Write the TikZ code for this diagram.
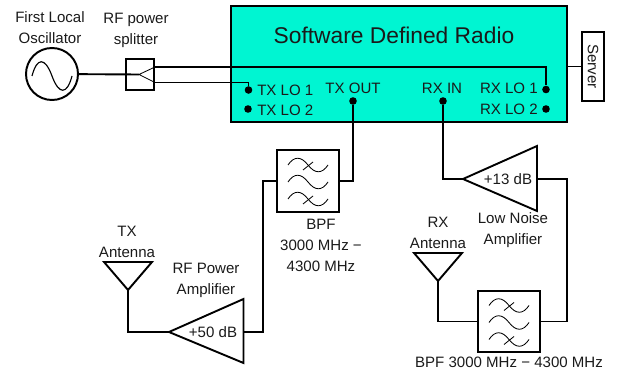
\documentclass[tikz,border=0pt]{standalone}
\usepackage{fontspec}
\setmainfont{Liberation Sans}
\usetikzlibrary{positioning,calc}
\definecolor{sdrcolor}{HTML}{00F5D2}
\definecolor{inkcolor}{HTML}{1A1A1A}
\tikzset{
    wire/.style={line width=1.35pt,line join=miter},
    boxnode/.style={draw,line width=1.4pt,inner sep=0pt},
    dotnode/.style={circle,fill=black,inner sep=0pt,minimum size=5.4pt},
    textnode/.style={text=inkcolor,inner sep=0pt,align=center,font=\fontsize{10.7}{15}\selectfont},
    bpfbox/.style={boxnode,minimum width=1.55cm,minimum height=1.53cm},
    pics/filtersym/.style={code={
        \foreach \off in {-16,1,18} {
            \draw[line width=0.6pt] (-20,\off) .. controls (-14,\off-9) and (-7,\off-9) .. (0,\off)
                .. controls (7,\off+9) and (14,\off+9) .. (20,\off);
        }
        \draw[line width=0.6pt] (-5,-11) -- (5,-19);
        \draw[line width=0.6pt] (-5,23) -- (5,15);
    }}
}
\begin{document}
\begin{tikzpicture}[x=0.025cm,y=-0.025cm]
    \useasboundingbox (0,0) rectangle (618,372);

    % Radio
    \node[boxnode,fill=sdrcolor,minimum width=8.38cm,minimum height=2.9cm] (sdr) at (399,64) {};
    \node[textnode,font=\fontsize{16.2}{15}\selectfont] (sdrtitle) at (394,35) {Software Defined Radio};
    \node[boxnode,fill=white,minimum width=0.55cm,minimum height=1.73cm] (server) at (593,66.5) {};
    \node[textnode,rotate=-90] (servertext) at (593,66.5) {Server};
    \draw[wire] (sdr.east |- server) -- (server);

    % Ports
    \foreach \name/\x/\y in {txloa/248.5/90, txlob/248/109, txout/353/101, rxin/443/101, rxloa/546/89.5, rxlob/546/109} {
        \node[dotnode] (\name) at (\x,\y) {};
    }
    \node[textnode,anchor=west] (txloatext) at (257,90) {TX LO 1};
    \node[textnode,anchor=west] (txlobtext) at (257,110) {TX LO 2};
    \node[textnode] (txouttext) at (353,88) {TX OUT};
    \node[textnode] (rxintext) at (442,88) {RX IN};
    \node[textnode,anchor=east] (rxloatext) at (538,88) {RX LO 1};
    \node[textnode,anchor=east] (rxlobtext) at (538,109) {RX LO 2};

    % Oscillator and splitter
    \node[draw,circle,line width=1.4pt,minimum size=1.3cm,inner sep=0pt] (osc) at (52,74) {};
    \draw[line width=0.8pt] (32,76) .. controls (37,57) and (45,57) .. (52,76)
        .. controls (59,95) and (67,95) .. (72,76);
    \node[boxnode,minimum width=0.7cm,minimum height=0.78cm] (splitter) at (140,74.5) {};
    \coordinate (fork) at (139,74.5);
    \coordinate (forka) at (splitter.east |- 0,67);
    \coordinate (forkb) at (splitter.east |- 0,82.5);
    \draw[wire] (osc) -- (fork);
    \draw[line width=0.6pt] (forka) -- (fork) -- (forkb);
    \draw[wire] (forka) -| (rxloa);
    \draw[wire] (forkb) -| (txloa);
    \node[textnode] (osctext) at (50,28) {First Local\\Oscillator};
    \node[textnode] (splittertext) at (136,30) {RF power\\splitter};

    % Transmit chain
    \node[bpfbox] (bpftx) at (308,181) {};
    \pic at (bpftx) {filtersym};
    \node[textnode] (bpftxtext) at (321,245) {BPF\\3000 MHz −\\4300 MHz};
    \coordinate (patip) at (169,332);
    \coordinate (patop) at (243.5,299);
    \coordinate (pabot) at (243.5,363);
    \coordinate (paout) at (243.5,332);
    \draw[wire] (patip) -- (patop) -- (pabot) -- cycle;
    \node[textnode] (patext) at (213,332) {+50 dB};
    \node[textnode] (panametext) at (206,280) {RF Power\\Amplifier};
    \coordinate (txtip) at (128,290);
    \coordinate (txa) at (104,262);
    \coordinate (txb) at (152,262);
    \draw[wire] (txa) -- (txb) -- (txtip) -- cycle;
    \node[textnode] (txanttext) at (127,242) {TX\\Antenna};
    \draw[wire] (txout) |- (bpftx.east);
    \draw[wire,line width=1.8pt] (bpftx.west) -- (263,181) |- (paout);
    \draw[wire] (patip) -| (txtip);

    % Receive chain
    \coordinate (lnatip) at (463,179);
    \coordinate (lnatop) at (537,146);
    \coordinate (lnabot) at (537,211);
    \coordinate (lnaout) at (537,179);
    \draw[wire] (lnatip) -- (lnatop) -- (lnabot) -- cycle;
    \node[textnode] (lnatext) at (508,179) {+13 dB};
    \node[textnode] (lnanametext) at (513,230) {Low Noise\\Amplifier};
    \node[bpfbox] (bpfrx) at (509,321.5) {};
    \pic at (bpfrx) {filtersym};
    \node[textnode] (bpfrxtext) at (509,362) {BPF 3000 MHz − 4300 MHz};
    \coordinate (rxtip) at (438,281);
    \coordinate (rxa) at (414,253);
    \coordinate (rxb) at (462,253);
    \draw[wire] (rxa) -- (rxb) -- (rxtip) -- cycle;
    \node[textnode] (rxanttext) at (438,233) {RX\\Antenna};
    \draw[wire] (rxin) |- (lnatip);
    \draw[wire] (lnaout) -- (567,179) |- (bpfrx.east);
    \draw[wire] (bpfrx.west) -| (rxtip);
\end{tikzpicture}
\end{document}
